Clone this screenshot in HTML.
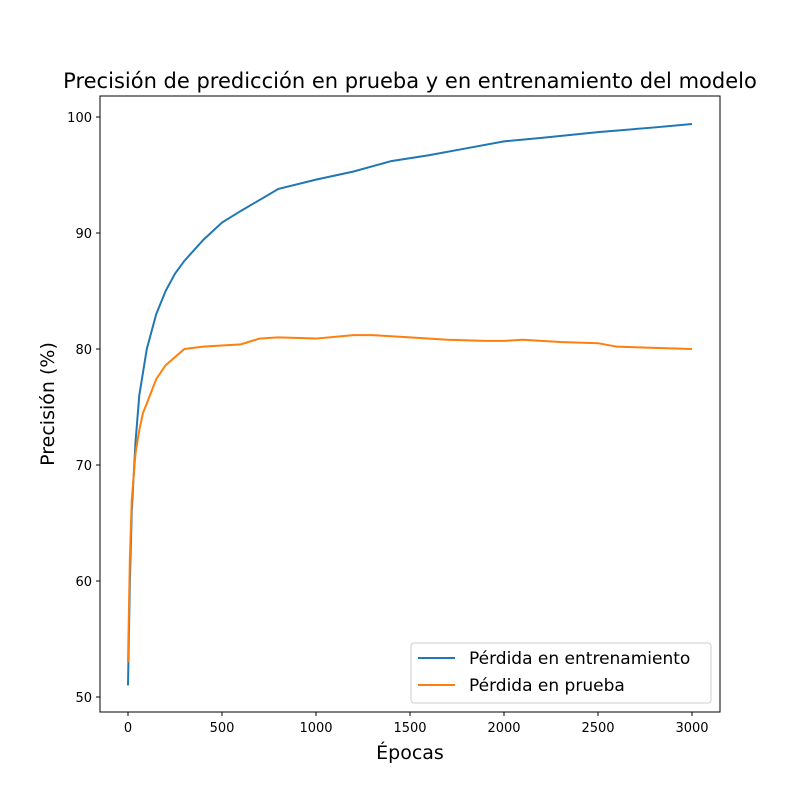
<!DOCTYPE html>
<html><head><meta charset="utf-8"><style>
body{margin:0;background:#fff}
svg text{font-family:"DejaVu Sans","Liberation Sans",sans-serif}
</style></head><body>
<svg id="chart" width="800" height="800" xmlns="http://www.w3.org/2000/svg">
<rect width="800" height="800" fill="#fff"/>
<text x="410" y="88" font-size="21" text-anchor="middle">Precisión de predicción en prueba y en entrenamiento del modelo</text>
<g id="plot"></g>
<rect x="100" y="96" width="620" height="616" fill="none" stroke="#000" stroke-width="1"/>
<g id="ticks"></g>
<text x="410" y="759" font-size="19" text-anchor="middle">Épocas</text>
<text transform="translate(54,404) rotate(-90)" font-size="19" text-anchor="middle">Precisión (%)</text>
<g>
<rect x="411" y="643" width="300" height="60" rx="3" fill="#fff" stroke="#ccc"/>
<line x1="418" y1="658" x2="455" y2="658" stroke="#1f77b4" stroke-width="2"/>
<text x="469" y="664" font-size="17">Pérdida en entrenamiento</text>
<line x1="418" y1="685" x2="455" y2="685" stroke="#ff7f0e" stroke-width="2"/>
<text x="469" y="691" font-size="17">Pérdida en prueba</text>
</g>
</svg>
<script>
const trainEpochs=[0,10,20,40,60,100,150,200,250,300,400,500,600,800,1000,1200,1400,1600,1800,2000,2200,2500,2800,3000];
const trainAcc=[51,60,66,72,76,80,83,85,86.5,87.6,89.4,90.9,91.9,93.8,94.6,95.3,96.2,96.7,97.3,97.9,98.2,98.7,99.1,99.4];
const testEpochs=[0,10,20,40,60,80,100,150,200,250,300,400,500,600,700,800,1000,1200,1300,1500,1700,1900,2000,2100,2300,2500,2600,2800,3000];
const testAcc=[53,62,67,71,73,74.5,75.3,77.4,78.6,79.3,80,80.2,80.3,80.4,80.9,81,80.9,81.2,81.2,81,80.8,80.7,80.7,80.8,80.6,80.5,80.2,80.1,80];
const xTicks=[0,500,1000,1500,2000,2500,3000];
const yTicks=[50,60,70,80,90,100];
const xs=v=>128+v*0.188;
const ys=v=>697-(v-50)*11.6;
const NS="http://www.w3.org/2000/svg";
const plot=document.getElementById('plot'), ticks=document.getElementById('ticks');
function line(ex,ey,color,name){
  const p=document.createElementNS(NS,'polyline');
  p.setAttribute('points',ex.map((e,i)=>xs(e)+','+ys(ey[i])).join(' '));
  p.setAttribute('fill','none');p.setAttribute('stroke',color);p.setAttribute('stroke-width','2');
  
  
  plot.appendChild(p);
}
line(trainEpochs,trainAcc,'#1f77b4','train-accuracy-line');
line(testEpochs,testAcc,'#ff7f0e','test-accuracy-line');
xTicks.forEach(t=>{
  const l=document.createElementNS(NS,'line');
  l.setAttribute('x1',xs(t));l.setAttribute('x2',xs(t));l.setAttribute('y1',712);l.setAttribute('y2',716);l.setAttribute('stroke','#000');
  
  
  ticks.appendChild(l);
  const tx=document.createElementNS(NS,'text');
  tx.setAttribute('x',xs(t));tx.setAttribute('y',732);tx.setAttribute('font-size','13');tx.setAttribute('text-anchor','middle');
  tx.textContent=t;
  
  
  ticks.appendChild(tx);
});
yTicks.forEach(t=>{
  const l=document.createElementNS(NS,'line');
  l.setAttribute('x1',96);l.setAttribute('x2',100);l.setAttribute('y1',ys(t));l.setAttribute('y2',ys(t));l.setAttribute('stroke','#000');
  
  
  ticks.appendChild(l);
  const tx=document.createElementNS(NS,'text');
  tx.setAttribute('x',92);tx.setAttribute('y',ys(t)+5);tx.setAttribute('font-size','13');tx.setAttribute('text-anchor','end');
  tx.textContent=t;
  
  
  ticks.appendChild(tx);
});
</script>
</body></html>
